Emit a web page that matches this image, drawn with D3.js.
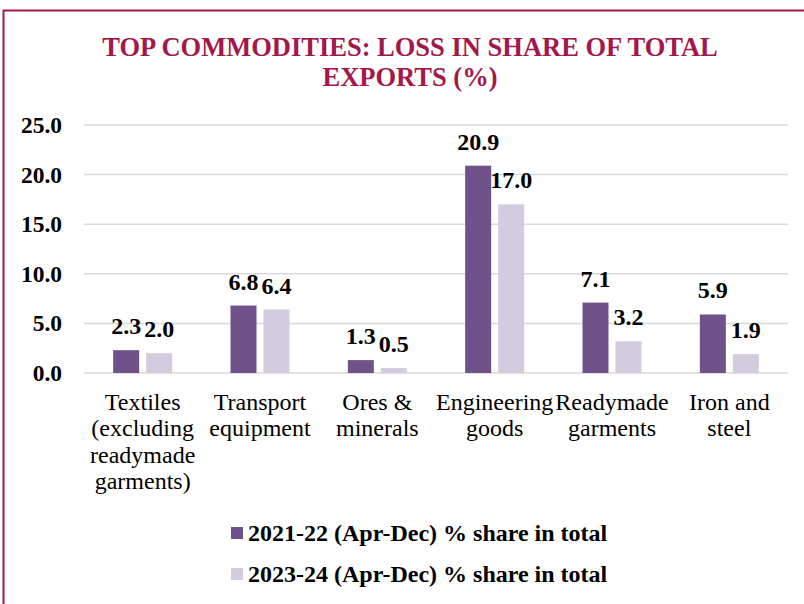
<!DOCTYPE html>
<html>
<head>
<meta charset="utf-8">
<script src="https://cdn.jsdelivr.net/npm/d3@7"></script>
<style>
  html, body { margin: 0; padding: 0; background: #fff; }
  svg { display: block; }
</style>
</head>
<body>
<svg id="chart" width="804" height="604" font-family="'Liberation Serif', 'Times New Roman', Times, serif"></svg>
<script>
const categories = [
  ["Textiles", "(excluding", "readymade", "garments)"],
  ["Transport", "equipment"],
  ["Ores &", "minerals"],
  ["Engineering", "goods"],
  ["Readymade", "garments"],
  ["Iron and", "steel"]
];
const seriesNames = ["2021-22 (Apr-Dec) % share in total", "2023-24 (Apr-Dec) % share in total"];
const values2122 = [2.3, 6.8, 1.3, 20.9, 7.1, 5.9];
const values2324 = [2.0, 6.4, 0.5, 17.0, 3.2, 1.9];
const yTicks = [0, 5, 10, 15, 20, 25];
const colors = ["#6E5289", "#D3CCDE"];
const titleLines = ["TOP COMMODITIES: LOSS IN SHARE OF TOTAL", "EXPORTS (%)"];

(function () {
const svg = d3.select("#chart");
const FONT = "'Liberation Serif', 'Times New Roman', Times, serif";

// border
svg.append("rect")
  .attr("x", 3.5).attr("y", 10.5)
  .attr("width", 820).attr("height", 620)
  .attr("fill", "none").attr("stroke", "#A3174B").attr("stroke-width", 2);

// title
svg.append("g").selectAll("text").data(titleLines).join("text")
  .attr("x", 410).attr("y", (d, i) => 56 + i * 30)
  .attr("text-anchor", "middle")
  .attr("font-family", FONT)
  .attr("font-size", "26.5px").attr("font-weight", "bold")
  .attr("fill", "#A3174B")
  .text(d => d);

const pLeft = 84, pRight = 788, pTop = 125, pBottom = 373;
const x0 = d3.scaleBand().domain(d3.range(categories.length)).range([pLeft, pRight]).padding(0);
const x1 = d3.scaleBand().domain([0, 1]).range([-29.5, 29.5]).paddingInner(7 / 33).paddingOuter(0);
const y = d3.scaleLinear().domain([0, 25]).range([pBottom, pTop]);

// grid
svg.append("g").selectAll("line").data(yTicks).join("line")
  .attr("x1", pLeft).attr("x2", pRight)
  .attr("y1", d => y(d)).attr("y2", d => y(d))
  .attr("stroke", "#D9D9D9").attr("stroke-width", 1.5);

// y tick labels
svg.append("g").selectAll("text").data(yTicks).join("text")
  .attr("x", 62).attr("y", d => y(d)).attr("dy", "0.34em")
  .attr("text-anchor", "end")
  .attr("font-family", FONT)
  .attr("font-size", "23.5px").attr("font-weight", "bold")
  .attr("fill", "#000")
  .text(d => d3.format(".1f")(d));

const series = [values2122, values2324];
const barData = [];
series.forEach((vals, s) => vals.forEach((v, i) => barData.push({ s, i, v })));

svg.append("g").selectAll("rect").data(barData).join("rect")
  .attr("x", d => x0(d.i) + x0.bandwidth() / 2 + x1(d.s))
  .attr("width", x1.bandwidth())
  .attr("y", d => y(d.v))
  .attr("height", d => y(0) - y(d.v))
  .attr("fill", d => colors[d.s]);

// value labels
svg.append("g").selectAll("text").data(barData).join("text")
  .attr("x", d => x0(d.i) + x0.bandwidth() / 2 + x1(d.s) + x1.bandwidth() / 2)
  .attr("y", d => y(d.v) - 16)
  .attr("text-anchor", "middle")
  .attr("font-family", FONT)
  .attr("font-size", "24px").attr("font-weight", "bold")
  .attr("fill", "#000")
  .text(d => d3.format(".1f")(d.v));

// category labels
const catG = svg.append("g").selectAll("text").data(categories).join("text")
  .attr("text-anchor", "middle")
  .attr("font-family", FONT)
  .attr("font-size", "24px")
  .attr("fill", "#000");
catG.selectAll("tspan").data((d, i) => d.map(t => ({ t, i }))).join("tspan")
  .attr("x", d => x0(d.i) + x0.bandwidth() / 2)
  .attr("y", (d, j) => 410 + j * 26.3)
  .text(d => d.t);

// legend
const leg = svg.append("g").selectAll("g").data(seriesNames).join("g")
  .attr("transform", (d, i) => `translate(231, ${533 + i * 41})`);
leg.append("rect").attr("x", 0).attr("y", -6).attr("width", 12).attr("height", 12)
  .attr("fill", (d, i) => colors[i]);
leg.append("text").attr("x", 17).attr("y", 0).attr("dy", "0.34em")
  .attr("font-family", FONT)
  .attr("font-size", "24px").attr("font-weight", "bold").attr("fill", "#000")
  .text(d => d);
})();
</script>
</body>
</html>
